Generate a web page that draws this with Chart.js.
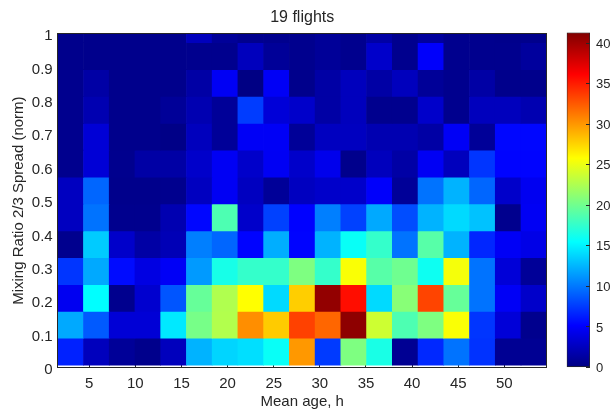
<!DOCTYPE html>
<html>
<head>
<meta charset="utf-8">
<title>19 flights</title>
<script src="https://cdn.jsdelivr.net/npm/chart.js@4.4.1/dist/chart.umd.min.js"></script>
<style>
  html, body { margin: 0; padding: 0; background: #fff; }
  #wrap { position: relative; width: 614px; height: 411px; }
  #heat { position: absolute; left: 0; top: 0; }
  #cbar { position: absolute; left: 555px; top: 0; }
</style>
</head>
<body>
<div id="wrap">
  <canvas id="heat" width="614" height="411"></canvas>
  <canvas id="cbar" width="59" height="411"></canvas>
</div>
<script>
// bin centres along x (mean age, h)
const ageCenters = [2.98, 5.77, 8.56, 11.35, 14.14, 16.93, 19.72, 22.51, 25.30, 28.09,
  30.88, 33.67, 36.46, 39.25, 42.04, 44.83, 47.62, 50.41, 53.20];

// bin edges along y (normalised spread), the top bin runs past 1
const spreadEdges = [0.007, 0.0875, 0.168, 0.2485, 0.329, 0.4095, 0.49, 0.5705,
  0.651, 0.7315, 0.812, 0.8925, 0.973, 1.0535];

// counts per bin, bottom row first, one value per age bin
const counts = [
  [6.5, 2.5, 1.0, 0.5, 2.5, 12.4, 13.8, 14.2, 15.8, 30.0, 7.5, 20.6, 16.5, 0.8, 6.8, 9.8, 7.2, 0.8, 0.8],
  [12.0, 8.8, 3.5, 3.5, 14.6, 20.3, 22.7, 30.4, 27.9, 33.5, 32.0, 40.7, 23.8, 18.6, 20.6, 25.6, 7.3, 3.6, 0.6],
  [4.6, 15.5, 0.6, 3.2, 8.6, 19.6, 22.6, 25.8, 14.0, 27.8, 40.5, 35.6, 14.0, 21.0, 33.4, 19.6, 9.8, 4.8, 3.0],
  [7.3, 12.0, 5.6, 4.0, 4.8, 11.4, 16.4, 17.6, 17.6, 20.6, 17.6, 25.6, 19.0, 20.0, 16.0, 25.4, 9.8, 3.6, 1.0],
  [0.6, 13.4, 3.0, 1.5, 2.2, 10.3, 9.3, 5.3, 12.2, 5.3, 12.4, 15.8, 17.6, 9.8, 19.0, 12.4, 6.7, 4.8, 4.2],
  [2.6, 9.8, 0.6, 0.6, 2.0, 5.4, 18.6, 3.0, 7.8, 5.2, 10.3, 7.8, 12.0, 8.3, 12.4, 14.0, 13.0, 0.6, 4.7],
  [2.6, 9.3, 0.5, 0.5, 0.6, 2.6, 4.7, 2.6, 1.0, 2.6, 3.0, 3.0, 5.0, 1.0, 9.8, 12.4, 9.3, 3.0, 4.6],
  [0.6, 3.5, 0.6, 1.5, 1.5, 3.0, 4.7, 3.0, 4.7, 3.0, 4.4, 0.5, 2.5, 1.5, 4.7, 2.5, 7.3, 5.3, 5.3],
  [0.6, 3.5, 0.5, 0.5, 0.3, 2.5, 1.0, 4.8, 4.8, 1.0, 2.6, 2.6, 2.0, 2.0, 1.5, 4.8, 1.0, 5.4, 5.4],
  [0.6, 2.0, 0.5, 0.5, 1.0, 2.0, 1.0, 7.6, 3.6, 3.0, 1.5, 2.5, 0.6, 0.6, 3.0, 0.6, 2.5, 2.5, 2.0],
  [0.6, 1.5, 0.5, 0.5, 0.5, 1.5, 4.7, 0.2, 4.8, 0.5, 1.5, 2.5, 1.5, 2.5, 1.0, 0.6, 1.5, 0.5, 0.5],
  [0.5, 0.5, 0.5, 0.5, 0.5, 0.6, 0.6, 2.5, 1.0, 0.6, 1.0, 0.6, 3.0, 0.6, 5.0, 0.6, 0.6, 0.6, 1.2],
  [0.5, 0.5, 0.5, 0.5, 0.5, 2.5, 1.0, 0.6, 0.6, 0.6, 1.0, 0.6, 1.5, 0.6, 1.2, 0.6, 0.6, 0.5, 0.5]
];

const xTicks = [5, 10, 15, 20, 25, 30, 35, 40, 45, 50];
const yTicks = [0, 0.1, 0.2, 0.3, 0.4, 0.5, 0.6, 0.7, 0.8, 0.9, 1];
const cTicks = [0, 5, 10, 15, 20, 25, 30, 35, 40];
const cMax = 41.3;

const ink = '#262626';
Chart.defaults.font.family = "'Liberation Sans', Arial, Helvetica, sans-serif";
Chart.defaults.color = ink;
const axisFont = { size: 15 };

// matlab jet colormap, t in 0..1
function jet(t) {
  const c = v => Math.round(255 * Math.max(0, Math.min(1, v)));
  const r = c(1.5 - Math.abs(4 * t - 3));
  const g = c(1.5 - Math.abs(4 * t - 2));
  const b = c(1.5 - Math.abs(4 * t - 1));
  return `rgb(${r},${g},${b})`;
}

const heatData = [];
const heatColors = [];
counts.forEach((row, r) => {
  row.forEach((v, c) => {
    heatData.push({ x: ageCenters[c], y: [spreadEdges[r], spreadEdges[r + 1]] });
    heatColors.push(jet(v / cMax));
  });
});

const setTicks = list => scale => { scale.ticks = list.map(v => ({ value: v })); };

new Chart(document.getElementById('heat'), {
  type: 'bar',
  data: {
    datasets: [{
      data: heatData,
      backgroundColor: heatColors,
      borderWidth: 0,
      barPercentage: 1,
      categoryPercentage: 1,
      grouped: false,
      clip: 0
    }]
  },
  options: {
    responsive: false,
    animation: false,
    devicePixelRatio: 1,
    layout: { padding: { left: 0, right: 67.3, top: 0, bottom: 0 } },
    plugins: {
      legend: { display: false },
      tooltip: { enabled: false },
      title: {
        display: true,
        text: '19 flights',
        fullSize: false,
        color: ink,
        font: { size: 16, weight: 'normal' },
        padding: { top: 8, bottom: 6.5 }
      }
    },
    scales: {
      x: {
        type: 'linear',
        offset: false,
        min: 1.58,
        max: 54.59,
        afterBuildTicks: setTicks(xTicks),
        ticks: { padding: 12.5, font: axisFont, color: ink, callback: v => String(v) },
        grid: { offset: false, drawOnChartArea: false, tickLength: -5, color: ink },
        border: { color: ink, z: 1 },
        title: { display: true, text: 'Mean age, h', font: axisFont, color: ink, padding: 0 },
        afterFit: s => { s.height = 43.5; }
      },
      y: {
        type: 'linear',
        min: 0,
        max: 1,
        afterBuildTicks: setTicks(yTicks),
        ticks: { padding: 10, labelOffset: 2.5, font: axisFont, color: ink, callback: v => String(v) },
        grid: { drawOnChartArea: false, tickLength: -5, color: ink },
        border: { color: ink, z: 1 },
        title: {
          display: true,
          text: 'Mixing Ratio 2/3 Spread (norm)',
          font: axisFont,
          color: ink,
          padding: { top: 10, bottom: 0 }
        },
        afterFit: s => { s.width = 57.7; }
      },
      x2: {
        type: 'linear',
        position: 'top',
        offset: false,
        min: 1.58,
        max: 54.59,
        ticks: { display: false },
        grid: { display: false },
        border: { color: ink, z: 1 },
        afterFit: s => { s.height = 0; }
      },
      y2: {
        type: 'linear',
        position: 'right',
        min: 0,
        max: 1,
        ticks: { display: false },
        grid: { display: false },
        border: { color: ink, z: 1 },
        afterFit: s => { s.width = 0; }
      }
    }
  }
});

// colour bar
new Chart(document.getElementById('cbar'), {
  type: 'bar',
  data: {
    labels: [''],
    datasets: [{
      data: [[0, cMax]],
      backgroundColor: ctx => {
        const chart = ctx.chart;
        if (!chart.chartArea) return jet(0.5);
        const ys = chart.scales.y;
        const g = chart.ctx.createLinearGradient(0, ys.getPixelForValue(0), 0, ys.getPixelForValue(cMax));
        [0, 1 / 8, 3 / 8, 5 / 8, 7 / 8, 1].forEach(s => g.addColorStop(s, jet(s)));
        return g;
      },
      borderColor: ink,
      borderWidth: 1,
      borderSkipped: false,
      barPercentage: 1,
      categoryPercentage: 1
    }]
  },
  options: {
    responsive: false,
    animation: false,
    devicePixelRatio: 1,
    layout: { padding: { left: 11.7, right: 0, top: 32.5, bottom: 0 } },
    plugins: { legend: { display: false }, tooltip: { enabled: false } },
    scales: {
      x: {
        ticks: { display: false },
        grid: { display: false },
        border: { display: false },
        afterFit: s => { s.height = 43.5; }
      },
      y: {
        position: 'right',
        min: 0,
        max: cMax,
        afterBuildTicks: setTicks(cTicks),
        ticks: { padding: 10, labelOffset: 1, font: { size: 13 }, color: ink },
        grid: { drawOnChartArea: false, tickLength: -4, color: ink, z: 1 },
        border: { display: false },
        afterFit: s => { s.width = 24; }
      }
    }
  }
});
</script>
</body>
</html>
